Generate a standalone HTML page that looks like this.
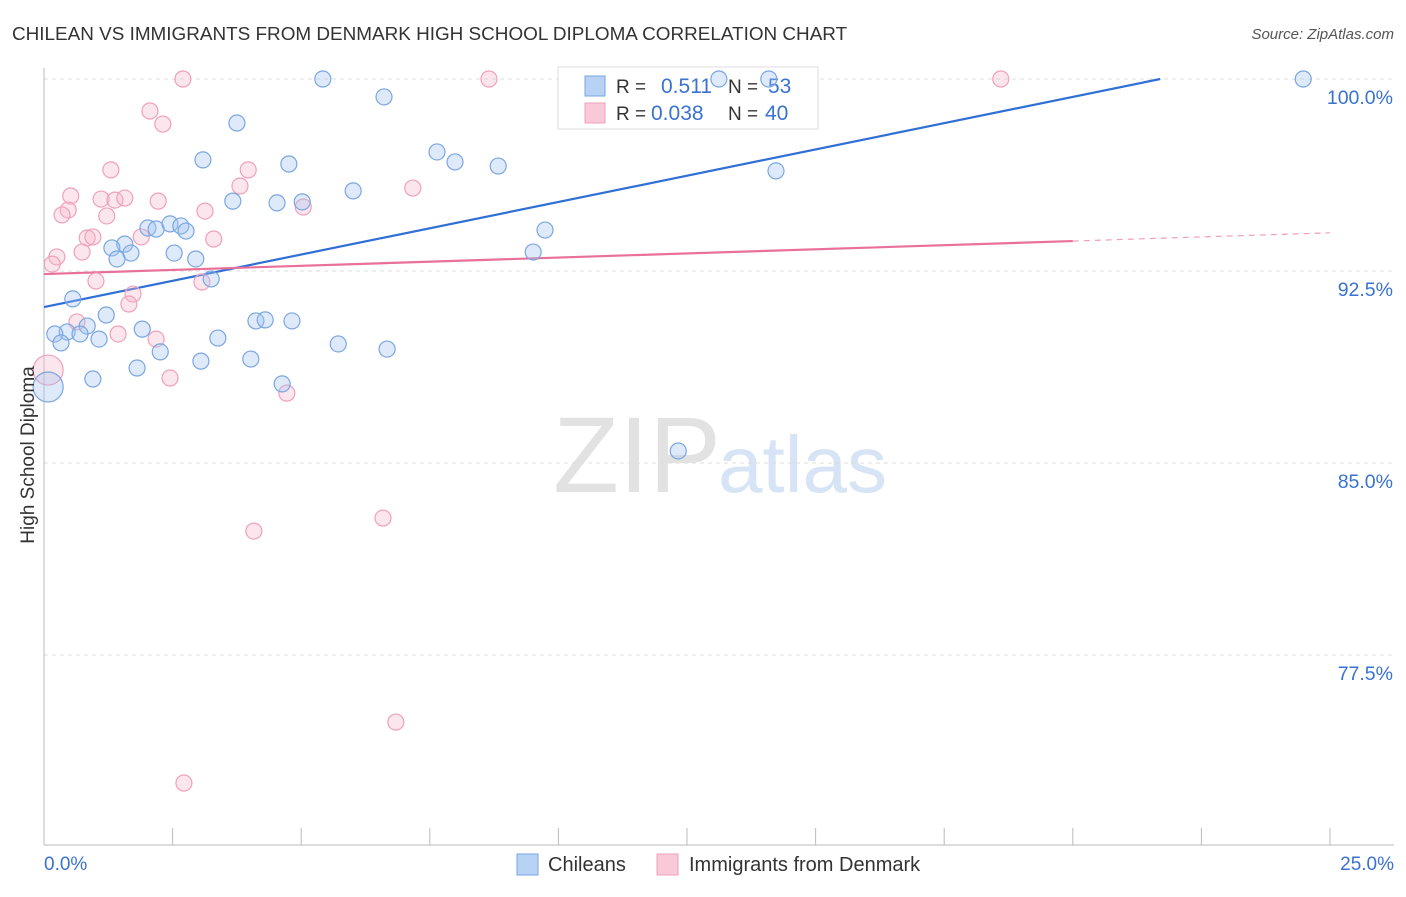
<!DOCTYPE html>
<html><head><meta charset="utf-8">
<style>
body{margin:0;background:#fff;font-family:"Liberation Sans",sans-serif;}
svg text{font-family:"Liberation Sans",sans-serif;}
</style></head>
<body>
<svg id="chart" width="1406" height="892" xmlns="http://www.w3.org/2000/svg">
<text x="12" y="40" font-size="18.9" fill="#333">CHILEAN VS IMMIGRANTS FROM DENMARK HIGH SCHOOL DIPLOMA CORRELATION CHART</text>
<text x="1394" y="39" font-size="15" fill="#555" font-style="italic" text-anchor="end">Source: ZipAtlas.com</text>
<g>
<text x="553" y="492" font-size="108" fill="#e2e2e2" font-family="Liberation Serif,serif">ZIP</text>
<text x="718" y="492" font-size="80" fill="#d6e4f5">atlas</text>
</g>
<g id="grid"></g>
<g id="axes"></g>
<g id="lines"></g>
<g>
<rect x="558" y="67" width="260" height="62" fill="#fff" stroke="#ddd"/>
<rect x="585" y="76" width="20" height="20" fill="#b7d2f4" stroke="#7aa6e0"/>
<rect x="585" y="103" width="20" height="20" fill="#f9c9d8" stroke="#f0a0bb"/>
<text x="616" y="93" font-size="19" fill="#333">R =</text>
<text x="661" y="93" font-size="21" fill="#3a72d0">0.511</text>
<text x="728" y="93" font-size="19" fill="#333">N =</text>
<text x="768" y="93" font-size="21" fill="#3a72d0">53</text>
<text x="616" y="120" font-size="19" fill="#333">R =</text>
<text x="651" y="120" font-size="21" fill="#3a72d0">0.038</text>
<text x="728" y="120" font-size="19" fill="#333">N =</text>
<text x="765" y="120" font-size="21" fill="#3a72d0">40</text>
</g>
<g id="pts"></g>
<text transform="translate(34,455) rotate(-90)" font-size="19" fill="#333" text-anchor="middle">High School Diploma</text>
<g>
<rect x="517" y="854" width="21" height="21" fill="#b7d2f4" stroke="#7aa6e0"/>
<text x="548" y="871" font-size="20" fill="#333">Chileans</text>
<rect x="657" y="854" width="21" height="21" fill="#f9c9d8" stroke="#f0a0bb"/>
<text x="689" y="871" font-size="20" fill="#333">Immigrants from Denmark</text>
</g>
</svg>
<script>
const blueX=[5.42,6.61,3.75,3.09,4.76,7.64,7.99,8.83,14.23,6.01,3.67,4.53,5.02,2.02,2.18,2.45,2.66,2.76,1.57,1.32,1.69,1.42,2.53,2.95,3.25,9.74,9.51,0.56,1.21,0.84,0.45,0.21,0.70,0.33,1.07,1.91,2.26,3.38,4.12,4.30,4.82,5.72,6.67,3.05,4.02,1.81,0.95,4.63,0.08,12.33,13.12,14.09,24.48];
const blueY=[100,99.30,98.28,96.84,96.68,97.15,96.76,96.60,96.41,95.63,95.23,95.16,95.20,94.18,94.14,94.34,94.26,94.06,93.55,93.40,93.20,92.97,93.20,92.97,92.19,94.10,93.24,91.41,90.78,90.35,90.12,90.04,90.04,89.69,89.84,90.23,89.34,89.88,90.55,90.59,90.55,89.65,89.45,88.98,89.06,88.71,88.28,88.09,87.97,85.47,100,100,100];
const pinkX=[2.70,8.65,18.60,2.06,2.31,1.30,3.97,3.81,7.17,0.52,1.11,1.38,1.57,2.22,5.04,0.47,0.35,1.22,3.13,0.84,0.95,1.89,3.30,0.74,0.25,0.16,1.01,1.73,1.65,3.07,0.64,1.44,2.18,2.45,4.72,0.08,6.59,4.08,6.84,2.72];
const pinkY=[100,100,100,98.75,98.24,96.45,96.45,95.82,95.74,95.43,95.31,95.27,95.35,95.23,95.00,94.88,94.69,94.65,94.84,93.79,93.83,93.83,93.75,93.24,93.05,92.77,92.11,91.60,91.21,92.07,90.51,90.04,89.84,88.32,87.73,88.63,82.85,82.34,74.88,72.50];
const blueBig=[48];const pinkBig=[35];
const blueFit=[91.09,0.4106];
const pinkFit=[92.38,0.0645];
const yTicks=[100,92.5,85,77.5];
const yTickLabels=["100.0%","92.5%","85.0%","77.5%"];
const xTicks=[0,2.5,5,7.5,10,12.5,15,17.5,20,22.5,25];

const NS="http://www.w3.org/2000/svg";
const sx=v=>44+v*51.44;
const sy=v=>79+(100-v)*25.6;
function mk(tag,attrs,parent){const e=document.createElementNS(NS,tag);for(const k in attrs)e.setAttribute(k,attrs[k]);parent.appendChild(e);return e;}
const grid=document.getElementById('grid'),axes=document.getElementById('axes'),lines=document.getElementById('lines'),pts=document.getElementById('pts');
yTicks.forEach((t,i)=>{
 const l=mk('line',{x1:44,x2:1394,y1:sy(t),y2:sy(t),stroke:'#ddd','stroke-dasharray':'4,4'},grid);
 
 
 const tx=mk('text',{x:1393,y:sy(t)+25,'font-size':19.5,fill:'#3a72d0','text-anchor':'end'},axes);
 tx.textContent=yTickLabels[i];
 
 
});
const ax=mk('line',{x1:44,x2:44,y1:68,y2:845,stroke:'#bbb'},axes);


const bx=mk('line',{x1:44,x2:1394,y1:845,y2:845,stroke:'#bbb'},axes);


xTicks.forEach(t=>{
 const l=mk('line',{x1:sx(t),x2:sx(t),y1:828,y2:845,stroke:'#bbb'},axes);
 
 
});
const xl0=mk('text',{x:44,y:870,'font-size':19,fill:'#3a72d0'},axes);xl0.textContent='0.0%';


const xl1=mk('text',{x:1394,y:870,'font-size':19,fill:'#3a72d0','text-anchor':'end'},axes);xl1.textContent='25.0%';



function drawPts(X,Y,big,fill,stroke,name){
 X.forEach((x,i)=>{
  const c=mk('circle',{cx:sx(x),cy:sy(Y[i]),r:big.includes(i)?15:8,fill:fill,stroke:stroke,'stroke-width':1.2},pts);
  
  
 });
}
drawPts(pinkX,pinkY,pinkBig,'rgba(246,182,204,0.35)','#f0a0bb','point-denmark');
drawPts(blueX,blueY,blueBig,'rgba(160,196,240,0.35)','#7aa6e0','point-chileans');

const bEnd=(100-blueFit[0])/blueFit[1];
const bl=mk('line',{x1:sx(0),y1:sy(blueFit[0]),x2:sx(bEnd),y2:sy(100),stroke:'#2f6fd6','stroke-width':2.2},lines);


const pl=mk('line',{x1:sx(0),y1:sy(pinkFit[0]),x2:sx(20),y2:sy(pinkFit[0]+pinkFit[1]*20),stroke:'#e8709a','stroke-width':2.2},lines);


const pd=mk('line',{x1:sx(20),y1:sy(pinkFit[0]+pinkFit[1]*20),x2:sx(25),y2:sy(pinkFit[0]+pinkFit[1]*25),stroke:'#f0a0bb','stroke-width':1.2,'stroke-dasharray':'6,5'},lines);


</script>
</body></html>
